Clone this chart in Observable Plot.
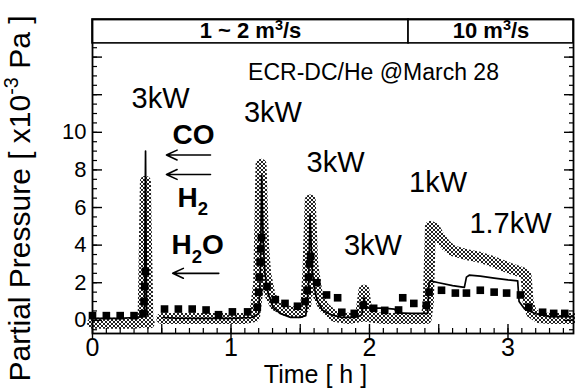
<!DOCTYPE html>
<html>
<head>
<meta charset="utf-8">
<script src="https://cdn.jsdelivr.net/npm/d3@7"></script>
<script src="https://cdn.jsdelivr.net/npm/@observablehq/plot@0.6"></script>
<style>
  html, body { margin: 0; padding: 0; background: #fff; }
  #chart { width: 575px; height: 390px; }
</style>
</head>
<body>
<div id="chart"></div>
<script>
// ---------- data (time in h, partial pressure in 1e-3 Pa) ----------
// CO : solid line  (null = gap in record)
const coTime  = [0, 0.1, 0.2, 0.3, 0.36, 0.375, 0.383, 0.39, 0.40, 0.45,
  0.51, 0.6, 0.8, 1.0, 1.15, 1.20, 1.212, 1.222, 1.232, 1.245, 1.267, 1.303, 1.354, 1.43, 1.5,
  1.54, 1.56, 1.571, 1.585, 1.60, 1.62, 1.66, 1.72, 1.8, 1.9, 1.945, 1.96, 1.975, 2.0, 2.1, 2.18,
  2.2, 2.3, 2.42, 2.43, 2.44, 2.5, 2.6, 2.685, 2.7, 2.72, 2.8, 2.9, 3.0, 3.07, 3.08, 3.12, 3.2, 3.3, 3.473];
const coValue = [0.1, 0.1, 0.1, 0.15, 0.2, 0.5, 9.0, 0.6, 0.3, null,
  0.15, 0.12, 0.1, 0.1, 0.15, 0.35, 2.5, 7.7, 4.2, 2.5, 1.45, 0.7, 0.37, 0.16, 0.16,
  0.25, 1.8, 5.6, 2.8, 1.8, 1.1, 0.55, 0.3, 0.16, 0.16, 0.3, 1.2, 0.75, 0.65, 0.65, 0.6,
  0.4, 0.37, 0.37, 2.0, 2.1, 2.0, 1.85, 1.75, 2.3, 2.4, 2.35, 2.25, 2.15, 2.1, 1.0, 0.6, 0.35, 0.2, 0.2];

// H2 : stippled trace
const h2Time  = [0, 0.1, 0.2, 0.3, 0.365, 0.382, 0.40, 0.41, 0.45,
  0.50, 0.7, 0.9, 1.1, 1.17, 1.20, 1.217, 1.235, 1.25, 1.28, 1.32, 1.4, 1.5,
  1.54, 1.555, 1.572, 1.59, 1.62, 1.67, 1.75, 1.85, 1.935, 1.96, 1.985, 2.1, 2.2, 2.3, 2.41,
  2.425, 2.44, 2.47, 2.5, 2.55, 2.6, 2.7, 2.8, 2.9, 3.0, 3.1, 3.13, 3.145, 3.17, 3.22, 3.3, 3.473];
const h2Value = [-0.15, -0.15, -0.15, -0.15, -0.1, 7.4, -0.1, -0.15, null,
  0.1, 0.1, 0.1, 0.1, 0.2, 2.0, 8.3, 4.0, 2.5, 1.4, 0.8, 0.5, 0.4,
  0.8, 2.5, 6.4, 3.0, 1.5, 0.7, 0.2, 0.1, 0.2, 1.6, 0.2, 0.1, 0.1, 0.1, 0.1,
  1.0, 5.0, 4.9, 4.5, 4.0, 3.7, 3.5, 3.35, 3.1, 2.8, 2.55, 2.4, 1.0, 0.4, 0.15, 0.1, 0.1];

// H2O : square markers
const h2oTime  = [0.0, 0.1, 0.2, 0.3, 0.365, 0.372, 0.377, 0.382,
  0.52, 0.62, 0.72, 0.82, 0.91, 1.01, 1.12, 1.19, 1.2, 1.205, 1.21, 1.215, 1.22, 1.26, 1.32, 1.39, 1.48,
  1.535, 1.55, 1.56, 1.567, 1.575, 1.62, 1.69, 1.77, 1.80, 1.89, 1.955, 2.03, 2.11, 2.21, 2.24, 2.32, 2.41,
  2.43, 2.52, 2.62, 2.70, 2.80, 2.90, 2.99, 3.09, 3.15, 3.25, 3.33, 3.41];
const h2oValue = [0.25, 0.25, 0.25, 0.25, 0.35, 1.0, 1.8, 2.6,
  0.6, 0.6, 0.6, 0.55, 0.3, 0.45, 0.45, 0.7, 1.5, 2.3, 3.1, 3.8, 4.4, 1.8, 1.1, 0.9, 0.75,
  1.0, 1.6, 2.3, 3.0, 3.4, 2.0, 1.35, 1.2, 0.43, 0.37, 0.8, 0.64, 0.53, 0.55, 1.2, 0.9, 0.8,
  1.5, 1.6, 1.45, 1.45, 1.6, 1.5, 1.45, 1.35, 0.7, 0.43, 0.37, 0.37];

// pumping-speed periods (top band)
const flowLabel = ["1 ~ 2 m^{3}/s", "10 m^{3}/s"];
const flowStart = [0, 2.282];
const flowEnd   = [2.282, 3.473];

// power annotations
const powerLabel = ["3kW", "3kW", "3kW", "3kW", "1kW", "1.7kW"];
const powerTime  = [0.491, 1.303, 1.755, 2.025, 2.495, 3.018];
const powerLevel = [11.80, 11.05, 8.39, 3.98, 7.33, 5.15];

// species labels and arrows
const speciesLabel = ["CO", "H_{2}", "H_{2}O"];
const speciesTime  = [0.578, 0.614, 0.570];
const speciesLevel = [9.88, 6.53, 3.98];
const arrowFrom  = [0.852, 0.852, 0.912];
const arrowTo    = [0.534, 0.534, 0.579];
const arrowLevel = [8.79, 7.76, 2.5];

const noteText = "ECR-DC/He @March 28";
const noteTime = 2.029, noteLevel = 13.18;

// axes
const xDomain = [0, 3.473];
const yDomain = [-0.70, 16.0];
const bandLow = 14.73;
const xMinor = d3.range(0, 35).map(i => i / 10);
const xHalf  = [0.5, 1.5, 2.5];
const xMajor = [0, 1, 2, 3];
const yMinor = d3.range(-1, 30).map(i => i / 2);
const yMajor = [0, 2, 4, 6, 8, 10, 12, 14];
const yLabels = [0, 2, 4, 6, 8, 10];
const xTitle = "Time [ h ]";
const yTitle = "Partial Pressure [ x10^{-3} Pa ]";

// ---------- tables ----------
const co  = coTime.map((t, i) => ({t, v: coValue[i]}));
const h2  = h2Time.map((t, i) => ({t, v: h2Value[i]}));
const h2o = h2oTime.map((t, i) => ({t, v: h2oValue[i]}));
const bands = flowLabel.map((label, i) => ({label, start: flowStart[i], end: flowEnd[i]}));
const powers = powerLabel.map((label, i) => ({label, t: powerTime[i], v: powerLevel[i]}));
const species = speciesLabel.map((label, i) => ({label, t: speciesTime[i], v: speciesLevel[i]}));
const arrows = arrowFrom.map((x1, i) => ({x1, x2: arrowTo[i], y: arrowLevel[i]}));

const FONT = '"Liberation Sans", Arial, Helvetica, sans-serif';

const chart = Plot.plot({
  width: 575,
  height: 390,
  marginLeft: 92,
  marginRight: 2,
  marginTop: 19,
  marginBottom: 57,
  style: {fontFamily: FONT, background: "white", color: "black", overflow: "visible"},
  x: {domain: xDomain},
  y: {domain: yDomain},
  marks: [
    // top band
    Plot.rect(bands, {x1: "start", x2: "end", y1: () => bandLow, y2: () => yDomain[1], fill: "white", stroke: "black", strokeWidth: 1.6}),
    Plot.text(bands, {x: d => (d.start + d.end) / 2, y: () => (bandLow + yDomain[1]) / 2, text: "label", fontSize: 22, fontWeight: "bold"}),
    // H2 stippled trace
    Plot.line(h2, {x: "t", y: "v", stroke: "url(#stipple)", strokeWidth: 11, strokeLinejoin: "round", strokeLinecap: "round"}),
    // CO
    Plot.line(co, {x: "t", y: "v", stroke: "black", strokeWidth: 1.7, strokeLinejoin: "round"}),
    // H2O
    Plot.dot(h2o, {x: "t", y: "v", symbol: "square", r: 4.3, fill: "black", stroke: "none"}),
    // x ticks (inward)
    Plot.axisX(xMinor, {tickSize: -5, fill: "none", label: null, strokeWidth: 1.2}),
    Plot.axisX(xHalf, {tickSize: -9, fill: "none", label: null, strokeWidth: 1.3}),
    Plot.axisX(xMajor, {tickSize: -9, fill: "none", label: null, strokeWidth: 1.4}),
    Plot.axisX(xMajor, {tickSize: 5, fill: "none", label: null, strokeWidth: 1.4}),
    Plot.axisX(xMajor, {tickSize: 0, tickPadding: 5, fontSize: 25, label: null, tickFormat: d => String(d)}),
    // y ticks left and right (inward)
    Plot.axisY(yMinor, {tickSize: -5, fill: "none", label: null, strokeWidth: 1.2}),
    Plot.axisY(yMajor, {tickSize: -10, fill: "none", label: null, strokeWidth: 1.4}),
    Plot.axisY(yMinor, {anchor: "right", tickSize: -5, fill: "none", label: null, strokeWidth: 1.2}),
    Plot.axisY(yMajor, {anchor: "right", tickSize: -10, fill: "none", label: null, strokeWidth: 1.4}),
    Plot.axisY(yLabels, {tickSize: 0, tickPadding: 6, fontSize: 22, label: null, tickFormat: d => String(d)}),
    Plot.frame({stroke: "black", strokeWidth: 1.8}),
    // titles
    Plot.text([xTitle], {text: d => d, x: () => 1.61, frameAnchor: "bottom", dy: 41, fontSize: 25, textAnchor: "middle", lineAnchor: "middle"}),
    Plot.text([yTitle], {text: d => d, frameAnchor: "left", rotate: -90, dx: -72, dy: 22, fontSize: 30, textAnchor: "middle", lineAnchor: "middle"}),
    // annotations
    Plot.text([noteText], {text: d => d, x: () => noteTime, y: () => noteLevel, fontSize: 23}),
    Plot.text(powers, {x: "t", y: "v", text: "label", fontSize: 29}),
    Plot.text(species, {x: "t", y: "v", text: "label", fontSize: 28, fontWeight: "bold", textAnchor: "start"}),
    Plot.arrow(arrows, {x1: "x1", x2: "x2", y1: "y", y2: "y", stroke: "black", strokeWidth: 1.6, headLength: 11, headAngle: 50})
  ]
});

document.getElementById("chart").appendChild(chart);

// stipple pattern for the H2 trace
const svgNS = "http://www.w3.org/2000/svg";
const defs = d3.select(chart).insert("defs", ":first-child");
const pat = defs.append("pattern").attr("id", "stipple").attr("patternUnits", "userSpaceOnUse")
  .attr("x", 0.5).attr("y", 0.5).attr("width", 4).attr("height", 4);
pat.append("rect").attr("x", 0).attr("y", 0).attr("width", 2).attr("height", 2).attr("fill", "#222");
pat.append("rect").attr("x", 2).attr("y", 2).attr("width", 2).attr("height", 2).attr("fill", "#222");

// sub/superscripts
chart.querySelectorAll("text").forEach(el => {
  const s = el.textContent;
  if (!/[_^]\{/.test(s)) return;
  const fs = parseFloat(getComputedStyle(el).fontSize) || 16;
  const parts = []; const re = /([_^])\{([^}]*)\}/g; let m, last = 0;
  while ((m = re.exec(s))) {
    if (m.index > last) parts.push({t: s.slice(last, m.index)});
    parts.push({t: m[2], k: m[1]});
    last = re.lastIndex;
  }
  if (last < s.length) parts.push({t: s.slice(last)});
  while (el.firstChild) el.removeChild(el.firstChild);
  let shift = 0;
  for (const p of parts) {
    const ts = document.createElementNS(svgNS, "tspan");
    const target = p.k === "_" ? fs * 0.32 : p.k === "^" ? -fs * 0.4 : 0;
    ts.setAttribute("dy", target - shift);
    shift = target;
    if (p.k) ts.setAttribute("font-size", (fs * 0.66).toFixed(1));
    ts.textContent = p.t;
    el.appendChild(ts);
  }
});
</script>
</body>
</html>
